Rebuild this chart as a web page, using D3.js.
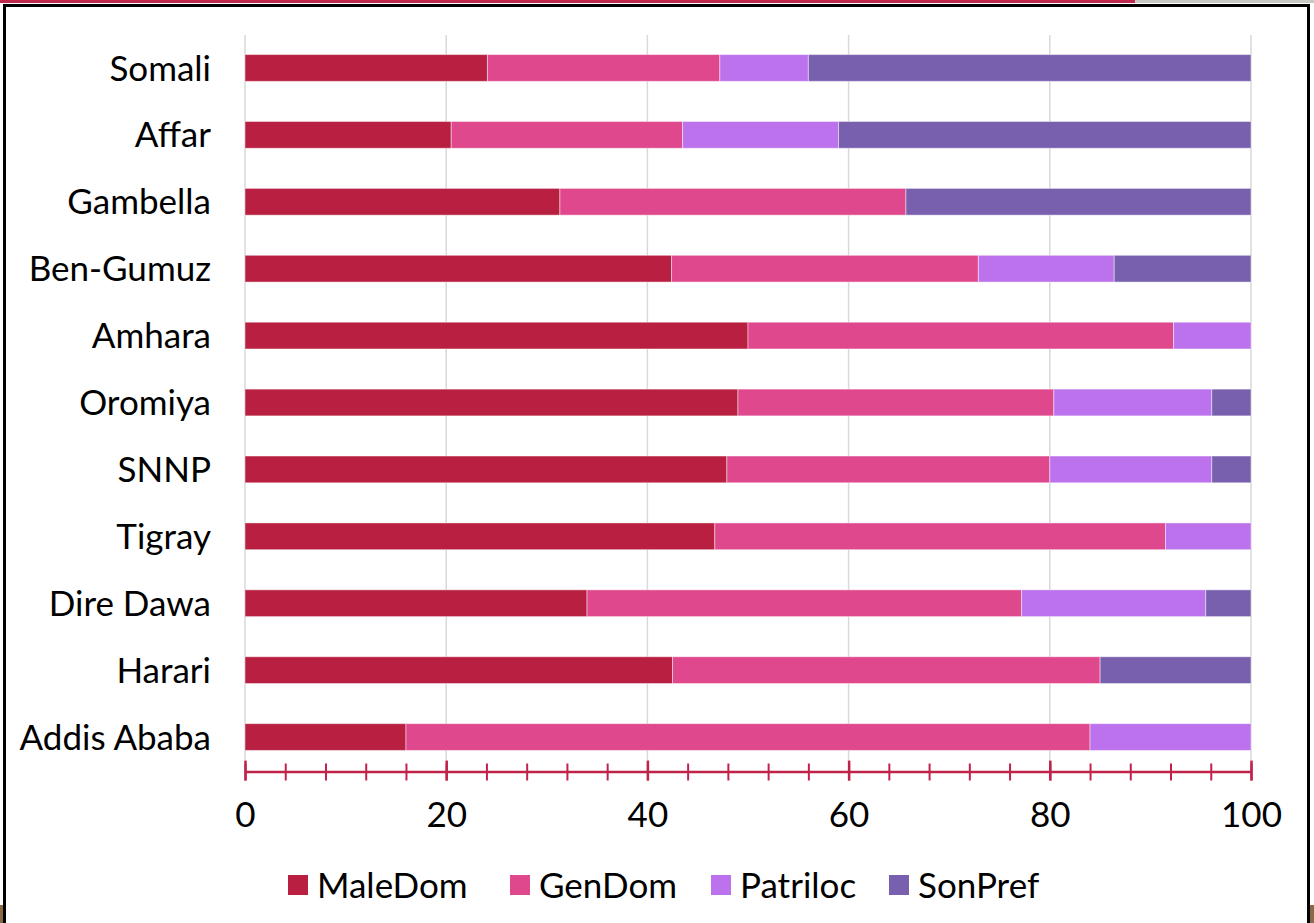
<!DOCTYPE html>
<html>
<head>
<meta charset="utf-8">
<script src="https://cdn.jsdelivr.net/npm/d3@7"></script>
<style>
  html, body { margin: 0; padding: 0; background: #ffffff; }
  svg { display: block; }
  text { font-family: "Lato", "Open Sans", sans-serif; fill: #000; }
</style>
</head>
<body>
<svg id="chart" width="1314" height="923"></svg>
<script>
// Regions, top to bottom
const regions = ["Somali", "Affar", "Gambella", "Ben-Gumuz", "Amhara", "Oromiya",
                 "SNNP", "Tigray", "Dire Dawa", "Harari", "Addis Ababa"];

// Share of each dimension per region (percent, stacked to 100)
const maleDom  = [24.1, 20.5, 31.3, 42.4, 50.0, 49.0, 47.9, 46.7, 34.0, 42.5, 16.0];
const genDom   = [23.1, 23.0, 34.4, 30.5, 42.3, 31.4, 32.1, 44.8, 43.2, 42.5, 68.0];
const patriloc = [ 8.8, 15.5,  0.0, 13.5,  7.7, 15.7, 16.1,  8.5, 18.3,  0.0, 16.0];
const sonPref  = [44.0, 41.0, 34.3, 13.6,  0.0,  3.9,  3.9,  0.0,  4.5, 15.0,  0.0];

const seriesNames = ["MaleDom", "GenDom", "Patriloc", "SonPref"];
const seriesColors = ["#b81f40", "#df488c", "#bb72ec", "#7860af"];

const majorTicks = [0, 20, 40, 60, 80, 100];
const minorTicks = d3.range(0, 101, 4);

const rows = regions.map((r, i) => ({
  region: r,
  MaleDom: maleDom[i], GenDom: genDom[i], Patriloc: patriloc[i], SonPref: sonPref[i]
}));

const svg = d3.select("#chart");

// Page frame and strip along the top edge
svg.append("rect").attr("x", 0).attr("y", 0).attr("width", 1314).attr("height", 3).attr("fill", "#c8c8c4");
svg.append("rect").attr("x", 0).attr("y", 0).attr("width", 1135).attr("height", 3).attr("fill", "#c0294d");
svg.append("rect").attr("x", 0).attr("y", 905).attr("width", 3).attr("height", 18).attr("fill", "#8a6a45");
svg.append("rect").attr("x", 1310).attr("y", 905).attr("width", 4).attr("height", 18).attr("fill", "#8a6a45");
svg.append("rect").attr("x", 4.5).attr("y", 5.5).attr("width", 1304).attr("height", 930)
  .attr("fill", "#ffffff").attr("stroke", "#000").attr("stroke-width", 3);

const x = d3.scaleLinear().domain([0, 100]).range([245, 1251]);
const y = d3.scaleBand().domain(regions).range([34.5, 770.5]).paddingInner(0.6).paddingOuter(0.3);
const color = d3.scaleOrdinal().domain(seriesNames).range(seriesColors);

// Vertical gridlines
svg.append("g").selectAll("line").data(majorTicks).join("line")
  .attr("x1", d => x(d)).attr("x2", d => x(d))
  .attr("y1", 35).attr("y2", 760)
  .attr("stroke", "#d9d9d9").attr("stroke-width", 1.5);

// Stacked bars
const stacked = d3.stack().keys(seriesNames)(rows);
svg.append("g").selectAll("g").data(stacked).join("g")
  .attr("fill", d => color(d.key))
  .selectAll("rect").data(d => d.filter(s => s[1] - s[0] > 0)).join("rect")
  .attr("x", d => x(d[0]))
  .attr("width", d => x(d[1]) - x(d[0]))
  .attr("y", d => y(d.data.region))
  .attr("height", y.bandwidth())
  .attr("stroke", "rgba(255,255,255,0.45)")
  .attr("stroke-width", 1);

// Category labels
svg.append("g").selectAll("text").data(regions).join("text")
  .attr("x", 211)
  .attr("y", d => y(d) + y.bandwidth() / 2)
  .attr("dy", "0.36em")
  .attr("text-anchor", "end")
  .attr("font-size", 35)
  .text(d => d);

// Bottom axis: minor ticks every 4, major every 20
const axisY = 771.5;
const axisColor = "#c0234a";
const minorAxis = svg.append("g").attr("transform", `translate(0,${axisY})`)
  .call(d3.axisBottom(x).tickValues(minorTicks).tickSize(9).tickFormat(""));
minorAxis.select(".domain").remove();
minorAxis.selectAll(".tick line").attr("y1", -8).attr("stroke", axisColor).attr("stroke-width", 2);

const majorAxis = svg.append("g").attr("transform", `translate(0,${axisY})`)
  .call(d3.axisBottom(x).tickValues(majorTicks).tickSize(9).tickPadding(22).tickSizeOuter(0));
majorAxis.select(".domain").attr("stroke", axisColor).attr("stroke-width", 2.5);
majorAxis.selectAll(".tick line").attr("y1", -11).attr("stroke", axisColor).attr("stroke-width", 2.5);
majorAxis.selectAll(".tick text")
  .attr("font-family", "Lato, 'Open Sans', sans-serif")
  .attr("font-size", 35).attr("fill", "#000");

// Legend
const legendX = [288, 510, 711, 889];
const legend = svg.append("g").selectAll("g").data(seriesNames).join("g")
  .attr("transform", (d, i) => `translate(${legendX[i]},875)`);
legend.append("rect").attr("width", 20).attr("height", 20).attr("fill", d => color(d));
legend.append("text").attr("x", 29).attr("y", 10).attr("dy", "0.36em")
  .attr("font-size", 35).text(d => d);
</script>
</body>
</html>
